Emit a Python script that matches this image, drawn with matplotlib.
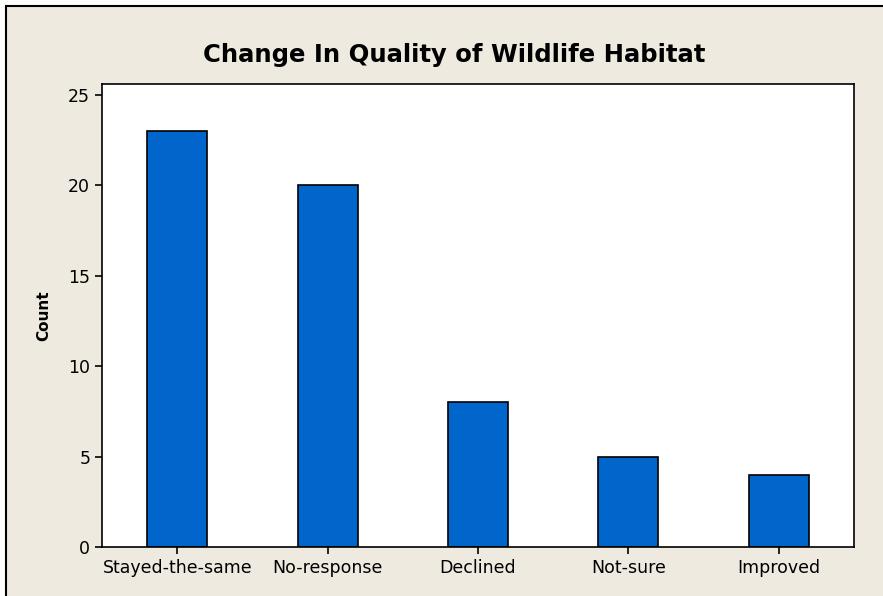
import matplotlib.pyplot as plt
from matplotlib.patches import Rectangle

categories = ["Stayed-the-same", "No-response", "Declined", "Not-sure", "Improved"]
counts = [23, 20, 8, 5, 4]
y_ticks = [0, 5, 10, 15, 20, 25]

W, H = 883, 596
fig = plt.figure(figsize=(W / 100, H / 100), dpi=100, facecolor="white")

# beige panel with black border (only top/left edge visible, rest cropped)
fig.add_artist(Rectangle((6 / W, -0.1), 1.2, (H - 6) / H + 0.1,
                         transform=fig.transFigure, facecolor="#EEEAE0",
                         edgecolor="black", linewidth=1.5, zorder=-10))

ax = fig.add_axes([102 / W, (H - 547) / H, (854 - 102) / W, (547 - 84) / H])
ax.set_facecolor("white")

x = range(len(categories))
ax.bar(x, counts, width=0.4, color="#0066CC", edgecolor="black", linewidth=1.2)

ax.set_xlim(-0.5, 4.5)
ax.set_ylim(0, 25.6)
ax.set_xticks(list(x))
ax.set_xticklabels(categories)
ax.set_yticks(y_ticks)

for s in ax.spines.values():
    s.set_linewidth(1.2)
ax.tick_params(direction="out", length=5, width=1.2, labelsize=12.5, colors="black")

ax.set_ylabel("Count", fontsize=11, fontweight="bold", labelpad=12)
fig.text(454 / W, (H - 55) / H, "Change In Quality of Wildlife Habitat",
         ha="center", va="center", fontsize=17.5, fontweight="bold")

fig.savefig("out.png", dpi=100, facecolor=fig.get_facecolor())
